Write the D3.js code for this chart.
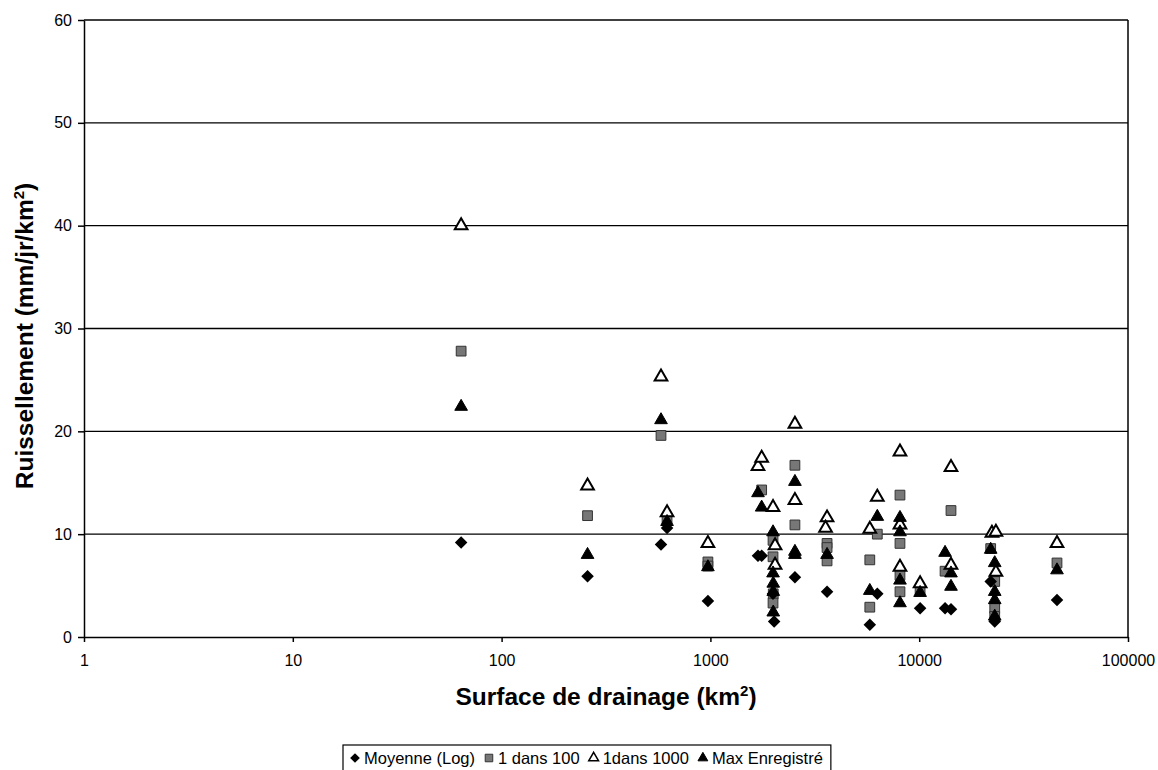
<!DOCTYPE html>
<html>
<head>
<meta charset="utf-8">
<title>Ruissellement vs surface de drainage</title>
<style>
body { margin: 0; background: #fff; }
svg { display: block; font-family: "Liberation Sans", Arial, sans-serif; }
.grid line { stroke: #000; stroke-width: 1.4px; }
.axis path, .axis line { stroke: #000; stroke-width: 1.5px; }
.axis text { font-size: 16px; fill: #000; font-family: "Liberation Sans", Arial, sans-serif; }
.title { font-size: 24.5px; font-weight: bold; }
.legend text { font-size: 16.5px; }
</style>
<script src="https://cdn.jsdelivr.net/npm/d3@7"></script>
</head>
<body>
<svg id="chart" width="1158" height="770"></svg>
<script>
// valeurs : [surface km2, ruissellement]
var moyenne = [
	[64, 9.2], [258, 5.9], [580, 9.0], [620, 10.6], [973, 3.5],
	[1690, 7.9], [1760, 7.9], [1995, 4.2], [2020, 1.5], [2540, 5.8],
	[3620, 4.4], [5800, 1.2], [6300, 4.2], [10100, 2.8], [13300, 2.8],
	[14200, 2.7], [22000, 5.4], [23000, 1.5], [45700, 3.6]
];
var unDans100 = [
	[64, 27.8], [258, 11.8], [580, 19.6], [620, 11.5], [973, 7.3], [973, 6.9],
	[1760, 14.3], [1995, 9.4], [1995, 7.8], [2000, 4.2], [1995, 3.3],
	[2540, 16.7], [2540, 10.9], [3620, 9.1], [3620, 8.7], [3620, 7.4],
	[5800, 7.5], [5800, 2.9], [6300, 10.0], [8090, 13.8], [8090, 9.1],
	[8090, 6.0], [8090, 4.4], [10100, 4.6], [13300, 6.4], [14200, 12.3],
	[22000, 8.6], [23000, 5.4], [23000, 2.8], [23000, 2.0], [45700, 7.2]
];
var unDans1000 = [
	[64, 40.0], [258, 14.7], [580, 25.3], [620, 12.1], [973, 9.1],
	[1690, 16.6], [1760, 17.4], [1995, 12.6], [2040, 8.9], [2040, 7.0],
	[2540, 20.7], [2540, 13.3], [3620, 11.6], [3560, 10.6], [5800, 10.5],
	[6300, 13.6], [8090, 18.0], [8090, 10.9], [8090, 6.8], [10100, 5.2],
	[14200, 16.5], [14200, 7.0], [22300, 10.1], [23300, 10.2], [23300, 6.3],
	[45700, 9.1]
];
var maxEnregistre = [
	[64, 22.4], [258, 8.0], [580, 21.1], [620, 11.2], [973, 6.8],
	[1690, 14.0], [1760, 12.6], [1995, 10.2], [1995, 6.2], [2000, 5.2],
	[2000, 4.4], [2000, 2.4], [2540, 15.1], [2540, 8.3], [2540, 8.0],
	[3620, 8.0], [5800, 4.5], [6300, 11.7], [8090, 11.6], [8090, 10.2],
	[8090, 5.5], [8090, 3.3], [10100, 4.3], [13300, 8.2], [14200, 6.2],
	[14200, 4.9], [22000, 8.5], [23000, 7.2], [23000, 4.4], [23000, 3.6],
	[23000, 2.0], [45700, 6.5]
];
var xTicks = [1, 10, 100, 1000, 10000, 100000];
var yTicks = [0, 10, 20, 30, 40, 50, 60];
var legendLabels = ['Moyenne (Log)', '1 dans 100', '1dans 1000', 'Max Enregistré'];

var svg = d3.select('#chart'),
	margin = {left: 84, right: 30, top: 20, bottom: 133},
	width = 1158 - margin.left - margin.right,
	height = 770 - margin.top - margin.bottom;

var x = d3.scaleLog().domain([1, 100000]).range([0, width]),
	y = d3.scaleLinear().domain([0, 60]).range([height, 0]);

var g = svg.append('g').attr('transform', 'translate(' + margin.left + ',' + margin.top + ')');

// lignes de quadrillage
g.append('g').attr('class', 'grid')
	.selectAll('line').data(yTicks.slice(1)).enter().append('line')
	.attr('x1', 0).attr('x2', width)
	.attr('y1', function (d) { return y(d); })
	.attr('y2', function (d) { return y(d); });

g.append('line')
	.attr('x1', width).attr('x2', width).attr('y1', 0).attr('y2', height)
	.attr('stroke', '#000').attr('stroke-width', 1.5);

var yAxis = d3.axisLeft(y).tickValues(yTicks).tickSize(6).tickSizeOuter(0).tickPadding(6);
g.append('g').attr('class', 'axis').call(yAxis);

var xAxis = d3.axisBottom(x).tickValues(xTicks).tickFormat(d3.format('d')).tickSize(5).tickSizeOuter(0).tickPadding(13);
g.append('g').attr('class', 'axis').attr('transform', 'translate(0,' + height + ')').call(xAxis)
	.select('.domain').attr('stroke-width', 2.5);

// titres des axes
var xt = svg.append('text').attr('class', 'title')
	.attr('x', margin.left + width / 2).attr('y', 705).attr('text-anchor', 'middle');
xt.append('tspan').text('Surface de drainage (km');
xt.append('tspan').attr('dy', -9).attr('font-size', 15).text('2');
xt.append('tspan').attr('dy', 9).text(')');

var yt = svg.append('text').attr('class', 'title')
	.attr('transform', 'translate(33,336) rotate(-90)')
	.attr('text-anchor', 'middle');
yt.append('tspan').text('Ruissellement (mm/jr/km');
yt.append('tspan').attr('dy', -9).attr('font-size', 15).text('2');
yt.append('tspan').attr('dy', 9).text(')');

// symboles
var symbols = [
	{data: moyenne, type: d3.symbolDiamond2, size: 100, fill: '#000', stroke: 'none'},
	{data: unDans100, type: d3.symbolSquare, size: 95, fill: '#777', stroke: '#333'},
	{data: unDans1000, type: d3.symbolTriangle2, size: 115, fill: '#fff', stroke: '#000'},
	{data: maxEnregistre, type: d3.symbolTriangle2, size: 115, fill: '#000', stroke: '#000'}
];

var drawOrder = [1, 2, 3, 0];
drawOrder.forEach(function (i) {
	var s = symbols[i];
	g.append('g').selectAll('path').data(s.data).enter().append('path')
		.attr('transform', function (d) { return 'translate(' + x(d[0]) + ',' + y(d[1]) + ')'; })
		.attr('d', d3.symbol().type(s.type).size(s.size))
		.attr('fill', s.fill)
		.attr('stroke', s.stroke)
		.attr('stroke-width', i === 2 ? 2 : 1);
});

// légende
var legend = svg.append('g').attr('class', 'legend');
var box = legend.append('rect')
	.attr('x', 343).attr('y', 745).attr('height', 40)
	.attr('fill', '#fff').attr('stroke', '#000').attr('stroke-width', 1.2);

var lx = 355;
legendLabels.forEach(function (label, i) {
	var s = symbols[i];
	legend.append('path')
		.attr('transform', 'translate(' + lx + ',758)')
		.attr('d', d3.symbol().type(s.type).size(s.size * 0.6))
		.attr('fill', s.fill).attr('stroke', s.stroke)
		.attr('stroke-width', i === 2 ? 1.5 : 1);
	var t = legend.append('text').attr('x', lx + 9).attr('y', 764).text(label);
	lx += 9 + t.node().getComputedTextLength() + 14;
});
box.attr('width', lx - 343 - 6);
</script>
</body>
</html>
